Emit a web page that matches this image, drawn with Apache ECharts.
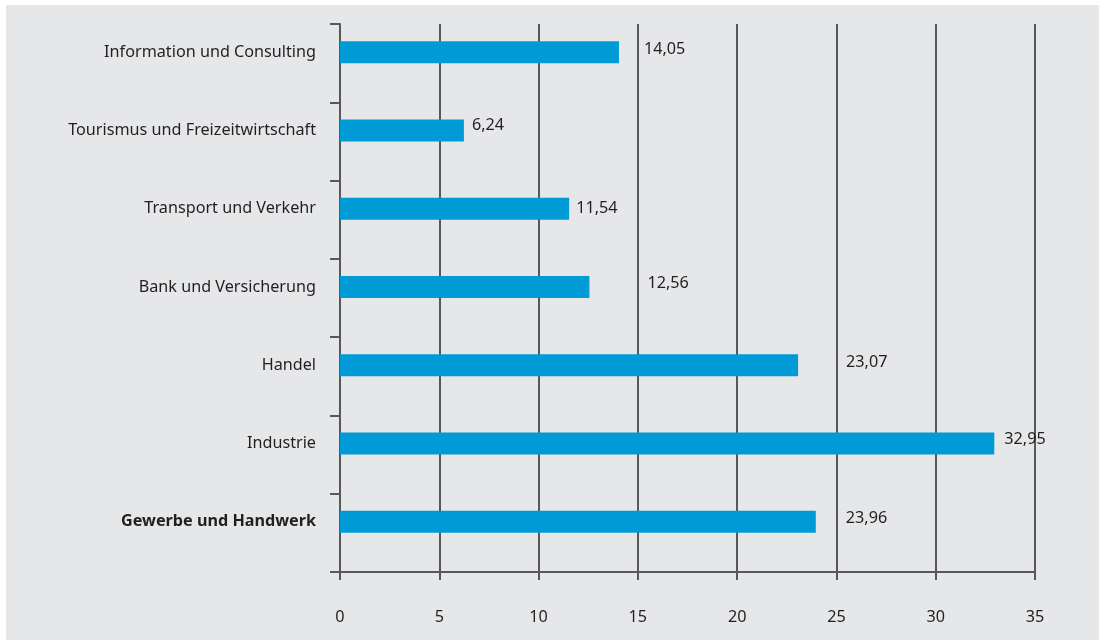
<!DOCTYPE html>
<html>
<head>
<meta charset="utf-8">
<script src="https://cdn.jsdelivr.net/npm/echarts@6/dist/echarts.min.js"></script>
<style>
  html, body { margin: 0; padding: 0; background: #ffffff; }
  #panel { position: absolute; left: 6px; top: 5px; width: 1093px; height: 635px; background: #e6e7e9; }
  #chart { position: absolute; left: -6px; top: -5px; width: 1101px; height: 640px; }
</style>
</head>
<body>
<div id="panel"><div id="chart"></div></div>
<script>
// Branchen, von unten nach oben (Kategorieachse beginnt unten)
const categories = [
  'Gewerbe und Handwerk',
  'Industrie',
  'Handel',
  'Bank und Versicherung',
  'Transport und Verkehr',
  'Tourismus und Freizeitwirtschaft',
  'Information und Consulting'
];
const values = [23.96, 32.95, 23.07, 12.56, 11.54, 6.24, 14.05];
const xTicks = [0, 5, 10, 15, 20, 25, 30, 35];

// Feinjustierung der Wertbeschriftungen [dx, dy]
const labelNudge = [[25, -3], [5, -4], [43, -3], [53, -4], [2, 0], [3, -5], [20, -3]];

const FONT = '"Noto Sans", sans-serif';
const FS = 16.2;
const INK = '#231f20';
const LINE = '#58585a';

const chart = echarts.init(document.getElementById('chart'), null, { renderer: 'canvas' });

chart.setOption({
  backgroundColor: 'transparent',
  animation: false,
  grid: { left: 340, right: 66, top: 24, bottom: 68, containLabel: false },
  xAxis: {
    type: 'value',
    min: xTicks[0],
    max: xTicks[xTicks.length - 1],
    interval: xTicks[1] - xTicks[0],
    axisLine: { show: true, lineStyle: { color: LINE, width: 2 } },
    axisTick: { show: true, length: 8, lineStyle: { color: LINE, width: 2 } },
    splitLine: { show: true, lineStyle: { color: LINE, width: 2 } },
    axisLabel: {
      margin: 37,
      fontFamily: FONT, fontSize: FS, color: INK,
      formatter: v => String(v)
    }
  },
  yAxis: {
    type: 'category',
    data: categories,
    axisLine: { show: true, lineStyle: { color: LINE, width: 2 } },
    axisTick: { show: true, length: 10, lineStyle: { color: LINE, width: 2 } },
    axisLabel: {
      margin: 24,
      padding: [0, 0, 22, 0],
      fontFamily: FONT, fontSize: FS, color: INK,
      formatter: (v, i) => i === 0 ? '{b|' + v + '}' : v,
      rich: { b: { fontFamily: FONT, fontSize: FS, fontWeight: 'bold', color: INK } }
    }
  },
  series: [
    {
      type: 'bar',
      barWidth: 22,
      barGap: '0%',
      itemStyle: { color: '#009bd7' },
      data: values.map((v, i) => ({
        value: v,
        label: { offset: labelNudge[i] }
      })),
      label: {
        show: true,
        position: 'right',
        distance: 5,
        fontFamily: FONT, fontSize: FS, color: INK,
        formatter: p => p.value.toFixed(2).replace('.', ',')
      }
    },
    {
      // leere Begleitreihe: hält die Balken in der oberen Hälfte jeder Kategorie
      type: 'bar',
      barWidth: 22,
      barGap: '0%',
      data: []
    }
  ]
});
</script>
</body>
</html>
